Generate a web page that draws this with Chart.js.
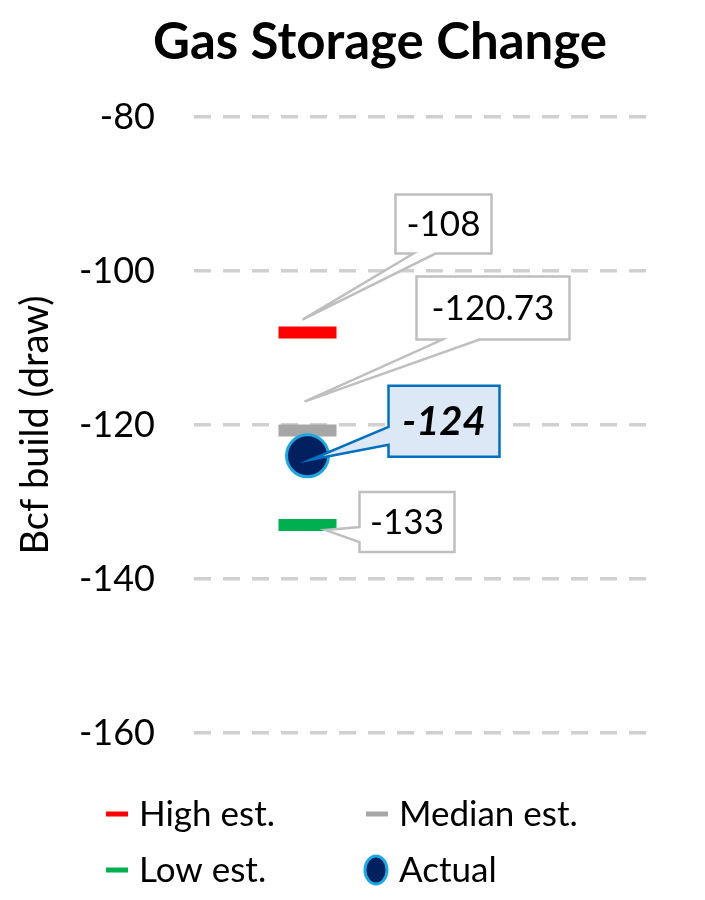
<!DOCTYPE html>
<html>
<head>
<meta charset="utf-8">
<script src="https://cdn.jsdelivr.net/npm/chart.js@4"></script>
<style>
  html, body { margin: 0; padding: 0; background: #ffffff; }
  #wrap { width: 705px; height: 900px; position: relative; }
</style>
</head>
<body>
<div id="wrap"><canvas id="c" width="705" height="900"></canvas></div>
<script>
// ---- data ----
const chartTitle = 'Gas Storage Change';
const axisTitle = 'Bcf build (draw)';
const seriesNames = ['High est.', 'Median est.', 'Low est.', 'Actual'];
const seriesValues = [-108, -120.73, -133, -124];
const yTicks = [-80, -100, -120, -140, -160];
const categories = ['', ''];

// ---- styles ----
const FONT = 'Lato, "Open Sans", sans-serif';
const colors = ['#ff0000', '#a6a6a6', '#00b050', '#002060'];
const actualBorder = '#1ba7e3';
// callout geometry relative to the data point (style only)
const calloutStyle = [
  { box: [88, -138, 96, 59], tip: [-5, -13], side: 'bottom', wedge: [106, 128], fill: '#ffffff', stroke: '#bfbfbf', font: '400 35px ' + FONT },
  { box: [109, -154, 153, 63], tip: [-3, -29], side: 'bottom', wedge: [135, 172], fill: '#ffffff', stroke: '#bfbfbf', font: '400 35px ' + FONT },
  { box: [52, -33, 95, 60], tip: [18, 5], side: 'left', wedge: [2, 17], fill: '#ffffff', stroke: '#bfbfbf', font: '400 35px ' + FONT },
  { box: [81, -70, 111, 71], tip: [3, 4], side: 'left', wedge: [-29, -11], fill: '#dce8f5', stroke: '#0070c0', font: 'italic 700 40px ' + FONT }
];

const datasets = seriesNames.map((name, i) => {
  const isActual = i === 3;
  return {
    label: name,
    data: [seriesValues[i], null],
    showLine: false,
    order: isActual ? 0 : 1,
    pointStyle: isActual ? 'circle' : 'line',
    pointRadius: isActual ? 21 : 29,
    pointHoverRadius: isActual ? 21 : 29,
    pointBorderWidth: isActual ? 3 : 12,
    pointHoverBorderWidth: isActual ? 3 : 12,
    pointBackgroundColor: colors[i],
    pointBorderColor: isActual ? actualBorder : colors[i],
    borderColor: isActual ? actualBorder : colors[i],
    backgroundColor: colors[i]
  };
});

const titlePlugin = {
  id: 'customTitle',
  afterDraw(chart) {
    const ctx = chart.ctx;
    ctx.save();
    ctx.font = '700 51px ' + FONT;
    ctx.fillStyle = '#000000';
    ctx.textAlign = 'center';
    ctx.textBaseline = 'alphabetic';
    ctx.fillText(chartTitle, 380, 59);
    ctx.restore();
  }
};

const calloutPlugin = {
  id: 'callouts',
  afterDatasetsDraw(chart) {
    const ctx = chart.ctx;
    chart.data.datasets.forEach((ds, i) => {
      const meta = chart.getDatasetMeta(i);
      const el = meta.data[0];
      if (!el) return;
      const px = el.x, py = el.y;
      const s = calloutStyle[i];
      const L = px + s.box[0], T = py + s.box[1], R = L + s.box[2], B = T + s.box[3];
      const tx = px + s.tip[0], ty = py + s.tip[1];
      ctx.save();
      ctx.beginPath();
      if (s.side === 'bottom') {
        const a = px + s.wedge[0], b = px + s.wedge[1];
        ctx.moveTo(L, T); ctx.lineTo(R, T); ctx.lineTo(R, B);
        ctx.lineTo(b, B); ctx.lineTo(tx, ty); ctx.lineTo(a, B);
        ctx.lineTo(L, B); ctx.closePath();
      } else {
        const a = py + s.wedge[0], b = py + s.wedge[1];
        ctx.moveTo(L, T); ctx.lineTo(R, T); ctx.lineTo(R, B); ctx.lineTo(L, B);
        ctx.lineTo(L, b); ctx.lineTo(tx, ty); ctx.lineTo(L, a);
        ctx.closePath();
      }
      ctx.fillStyle = s.fill;
      ctx.fill();
      ctx.lineWidth = 2.5;
      ctx.lineJoin = 'miter';
      ctx.strokeStyle = s.stroke;
      ctx.stroke();
      ctx.font = s.font;
      ctx.fillStyle = '#000000';
      ctx.textAlign = 'center';
      ctx.textBaseline = 'middle';
      ctx.fillText(String(ds.data[0]), (L + R) / 2, (T + B) / 2 + 1);
      ctx.restore();
    });
  }
};

const legendPlugin = {
  id: 'gridLegend',
  afterDraw(chart) {
    const ctx = chart.ctx;
    const cols = [106, 366];
    const rows = [814, 870];
    const grid = [[0, 0], [1, 0], [0, 1], [1, 1]];
    chart.data.datasets.forEach((ds, i) => {
      const cx = cols[grid[i][0]], cy = rows[grid[i][1]];
      ctx.save();
      if (i === 3) {
        ctx.beginPath();
        ctx.ellipse(cx + 10, cy, 11, 14, 0, 0, Math.PI * 2);
        ctx.fillStyle = colors[i];
        ctx.fill();
        ctx.lineWidth = 3;
        ctx.strokeStyle = actualBorder;
        ctx.stroke();
      } else {
        ctx.fillStyle = colors[i];
        ctx.fillRect(cx, cy - 2.5, 22, 5);
      }
      ctx.font = '400 35px ' + FONT;
      ctx.fillStyle = '#000000';
      ctx.textAlign = 'left';
      ctx.textBaseline = 'middle';
      ctx.fillText(ds.label, cx + 33, cy + 1);
      ctx.restore();
    });
  }
};

new Chart(document.getElementById('c'), {
  type: 'line',
  data: { labels: categories, datasets },
  plugins: [titlePlugin, calloutPlugin, legendPlugin],
  options: {
    responsive: false,
    animation: false,
    events: [],
    layout: { padding: { top: 117, bottom: 167, right: 57, left: 0 } },
    plugins: {
      legend: { display: false },
      title: { display: false },
      tooltip: { enabled: false }
    },
    scales: {
      x: {
        type: 'category',
        offset: true,
        display: false
      },
      y: {
        min: -160,
        max: -80,
        afterFit(scale) { scale.width = 194; },
        afterBuildTicks(scale) { scale.ticks = yTicks.map(v => ({ value: v })); },
        border: { display: false, dash: [17, 12] },
        grid: {
          color: '#d0d0d0',
          lineWidth: 3.5,
          drawTicks: false
        },
        ticks: {
          padding: 39,
          color: '#000000',
          font: { family: FONT, size: 36 }
        },
        title: {
          display: true,
          text: axisTitle,
          color: '#000000',
          font: { family: FONT, size: 38 },
          padding: { top: 13, bottom: 0 }
        }
      }
    }
  }
});
</script>
</body>
</html>
